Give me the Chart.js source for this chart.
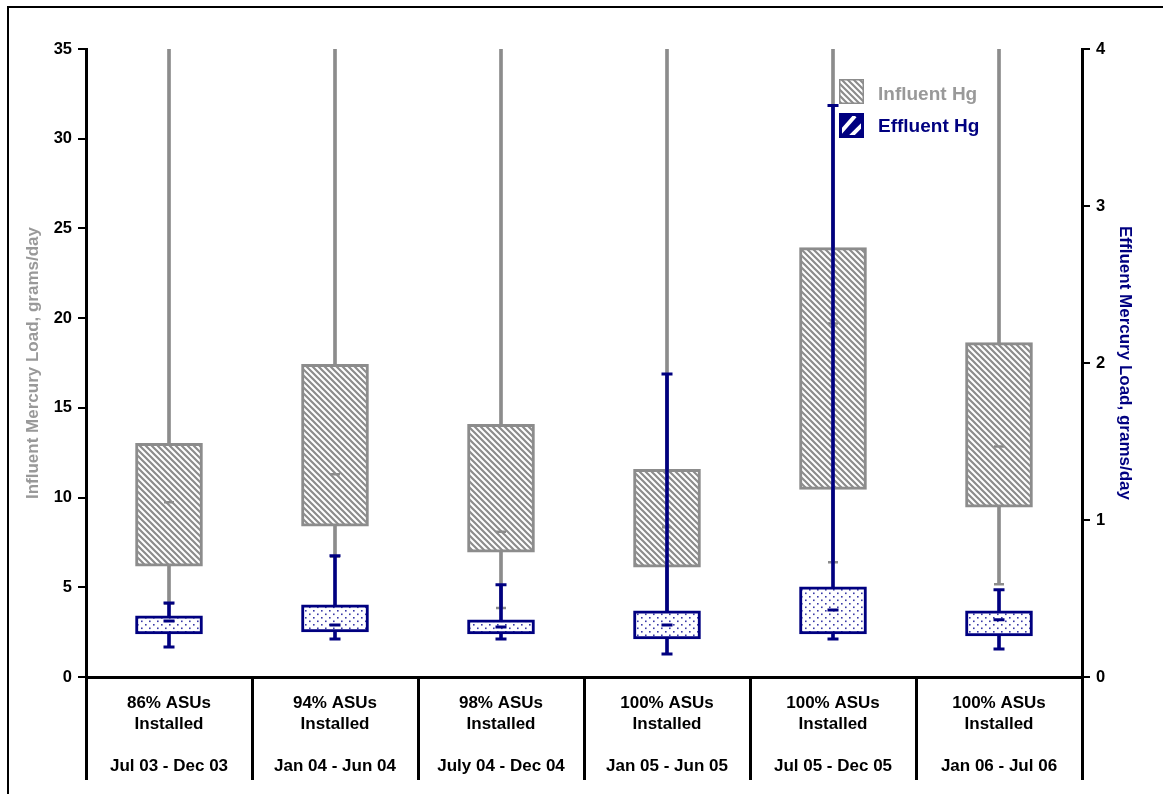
<!DOCTYPE html>
<html>
<head>
<meta charset="utf-8">
<script src="https://cdn.jsdelivr.net/npm/chart.js@4.4.0/dist/chart.umd.min.js"></script>
<style>
  html, body { margin: 0; padding: 0; background: #fff; }
  #wrap { position: relative; width: 1163px; height: 794px; overflow: hidden; }
  #frame { position: absolute; left: 7px; top: 6px; right: -10px; bottom: -10px;
           border-left: 2px solid #000; border-top: 2px solid #000; }
  canvas { position: absolute; left: 0; top: 0; }
</style>
</head>
<body>
<div id="wrap">
  <div id="frame"></div>
  <canvas id="hg" width="1163" height="794"></canvas>
</div>
<script>
const FONT = '"Liberation Sans", Arial, sans-serif';
const GRAY = '#8c8c8c';
const NAVY = '#000080';

const pctLabels = ['86% ASUs', '94% ASUs', '98% ASUs', '100% ASUs', '100% ASUs', '100% ASUs'];
const periodLabels = ['Jul 03 - Dec 03', 'Jan 04 - Jun 04', 'July 04 - Dec 04',
                      'Jan 05 - Jun 05', 'Jul 05 - Dec 05', 'Jan 06 - Jul 06'];

// influent Hg, grams/day (left axis) - upper whiskers run past the top of the plot
const infMin = [4.1, 6.7, 3.84, 3.0, 6.4, 5.17];
const infQ1  = [6.18, 8.40, 6.96, 6.12, 10.46, 9.46];
const infMed = [9.74, 11.3, 8.1, 8.35, 19.7, 12.85];
const infQ3  = [13.02, 17.42, 14.08, 11.57, 23.93, 18.64];
const infMax = [36, 36, 36, 36, 36, 36];

// effluent Hg, grams/day (right axis)
const effMin = [0.191, 0.242, 0.242, 0.147, 0.242, 0.179];
const effQ1  = [0.274, 0.287, 0.274, 0.242, 0.274, 0.262];
const effMed = [0.357, 0.332, 0.319, 0.332, 0.427, 0.364];
const effQ3  = [0.389, 0.459, 0.364, 0.421, 0.574, 0.421];
const effMax = [0.472, 0.772, 0.587, 1.93, 3.64, 0.555];

function makeHatch() {
  const c = document.createElement('canvas');
  c.width = 6; c.height = 6;
  const g = c.getContext('2d');
  g.fillStyle = '#fff';
  g.fillRect(0, 0, 6, 6);
  g.strokeStyle = GRAY;
  g.lineWidth = 2.2;
  g.beginPath();
  g.moveTo(-1, -1); g.lineTo(7, 7);
  g.moveTo(5, -1); g.lineTo(7, 1);
  g.moveTo(-1, 5); g.lineTo(1, 7);
  g.stroke();
  return g.createPattern(c, 'repeat');
}

function makeDots() {
  const c = document.createElement('canvas');
  c.width = 8; c.height = 7;
  const g = c.getContext('2d');
  g.fillStyle = '#fff';
  g.fillRect(0, 0, 8, 7);
  g.fillStyle = '#3a3aa8';
  g.fillRect(1, 1, 1.6, 1.6);
  g.fillRect(5, 4.5, 1.6, 1.6);
  return g.createPattern(c, 'repeat');
}

const hatch = makeHatch();
const dots = makeDots();

const labels = pctLabels.map((p, i) => [p, 'Installed', '', periodLabels[i]]);

function capSet(values, color, r, w, axis, order) {
  return {
    type: 'line', data: values, yAxisID: axis, order: order,
    showLine: false, pointStyle: 'line', pointRadius: r,
    pointBorderWidth: w, pointBorderColor: color, pointBackgroundColor: color
  };
}

// hand-drawn legend, sits inside the plot at top right
const legendBox = {
  id: 'legendBox',
  afterDraw(chart) {
    const c = chart.ctx;
    const x = 839, s = 25;
    c.save();
    c.fillStyle = hatch;
    c.fillRect(x, 79, s, s);
    c.strokeStyle = GRAY; c.lineWidth = 1.5;
    c.strokeRect(x + 0.75, 79.75, s - 1.5, s - 1.5);

    c.fillStyle = NAVY;
    c.fillRect(x, 113, s, s);
    c.beginPath();
    c.rect(x + 3, 116, s - 6, s - 6);
    c.clip();
    c.strokeStyle = '#fff'; c.lineWidth = 4;
    c.beginPath();
    c.moveTo(x + 1, 113 + s - 5); c.lineTo(x + s - 9, 113 + 3);
    c.moveTo(x + 9, 113 + s + 1); c.lineTo(x + s + 1, 113 + 9);
    c.stroke();
    c.restore();

    c.save();
    c.font = 'bold 19px ' + FONT;
    c.textBaseline = 'middle';
    c.fillStyle = '#999999';
    c.fillText('Influent Hg', 878, 95);
    c.fillStyle = NAVY;
    c.fillText('Effluent Hg', 878, 127);
    c.restore();
  }
};

const tickFont = { family: FONT, size: 16.5, weight: 'bold' };
const catFont = { family: FONT, size: 17, weight: 'bold', lineHeight: '21px' };
const titleFont = { family: FONT, size: 17, weight: 'bold' };

new Chart(document.getElementById('hg'), {
  type: 'bar',
  data: {
    labels: labels,
    datasets: [
      { data: infMin.map((v, i) => [v, infMax[i]]), yAxisID: 'yL', order: 8,
        barThickness: 3, grouped: false, backgroundColor: GRAY, borderWidth: 0 },
      { data: infQ1.map((v, i) => [v, infQ3[i]]), yAxisID: 'yL', order: 7,
        barThickness: 67, grouped: false, backgroundColor: hatch,
        borderColor: GRAY, borderWidth: 3, borderSkipped: false },
      capSet(infMed, GRAY, 5, 2.5, 'yL', 6),
      capSet(infMin, GRAY, 5, 2.5, 'yL', 6),
      { data: effMin.map((v, i) => [v, effMax[i]]), yAxisID: 'yR', order: 5,
        barThickness: 3, grouped: false, backgroundColor: NAVY, borderWidth: 0 },
      { data: effQ1.map((v, i) => [v, effQ3[i]]), yAxisID: 'yR', order: 4,
        barThickness: 67, grouped: false, backgroundColor: dots,
        borderColor: NAVY, borderWidth: 3, borderSkipped: false },
      capSet(effMin, NAVY, 5.5, 3, 'yR', 3),
      capSet(effMax, NAVY, 5.5, 3, 'yR', 3),
      capSet(effMed, NAVY, 5.5, 3, 'yR', 2)
    ]
  },
  options: {
    responsive: false,
    devicePixelRatio: 1,
    animation: false,
    events: [],
    layout: { padding: { left: 8, top: 49, right: 0, bottom: 0 } },
    plugins: { legend: { display: false }, tooltip: { enabled: false } },
    scales: {
      x: {
        offset: true,
        afterFit(s) { s.height = 117; },
        grid: { offset: true, drawOnChartArea: false, tickLength: 103, color: '#000', lineWidth: 3 },
        border: { display: true, color: '#000', width: 3 },
        ticks: { font: catFont, color: '#000', padding: -87.5, maxRotation: 0, autoSkip: false }
      },
      yL: {
        position: 'left', min: 0, max: 35,
        afterFit(s) { s.width = 78; },
        grid: { drawOnChartArea: false, tickLength: 8, color: '#000', lineWidth: 2 },
        border: { display: true, color: '#000', width: 3 },
        ticks: { stepSize: 5, font: tickFont, color: '#000', padding: 6 },
        title: { display: true, text: 'Influent Mercury Load, grams/day', color: '#999999',
                 font: titleFont, padding: { top: 15, bottom: 0 } }
      },
      yR: {
        position: 'right', min: 0, max: 4,
        afterFit(s) { s.width = 81; },
        grid: { drawOnChartArea: false, tickLength: 8, color: '#000', lineWidth: 2 },
        border: { display: true, color: '#000', width: 3 },
        ticks: { stepSize: 1, font: tickFont, color: '#000', padding: 6 },
        title: { display: true, text: 'Effluent Mercury Load, grams/day', color: NAVY,
                 font: titleFont, padding: { top: 28, bottom: 0 } }
      }
    }
  },
  plugins: [legendBox]
});
</script>
</body>
</html>
